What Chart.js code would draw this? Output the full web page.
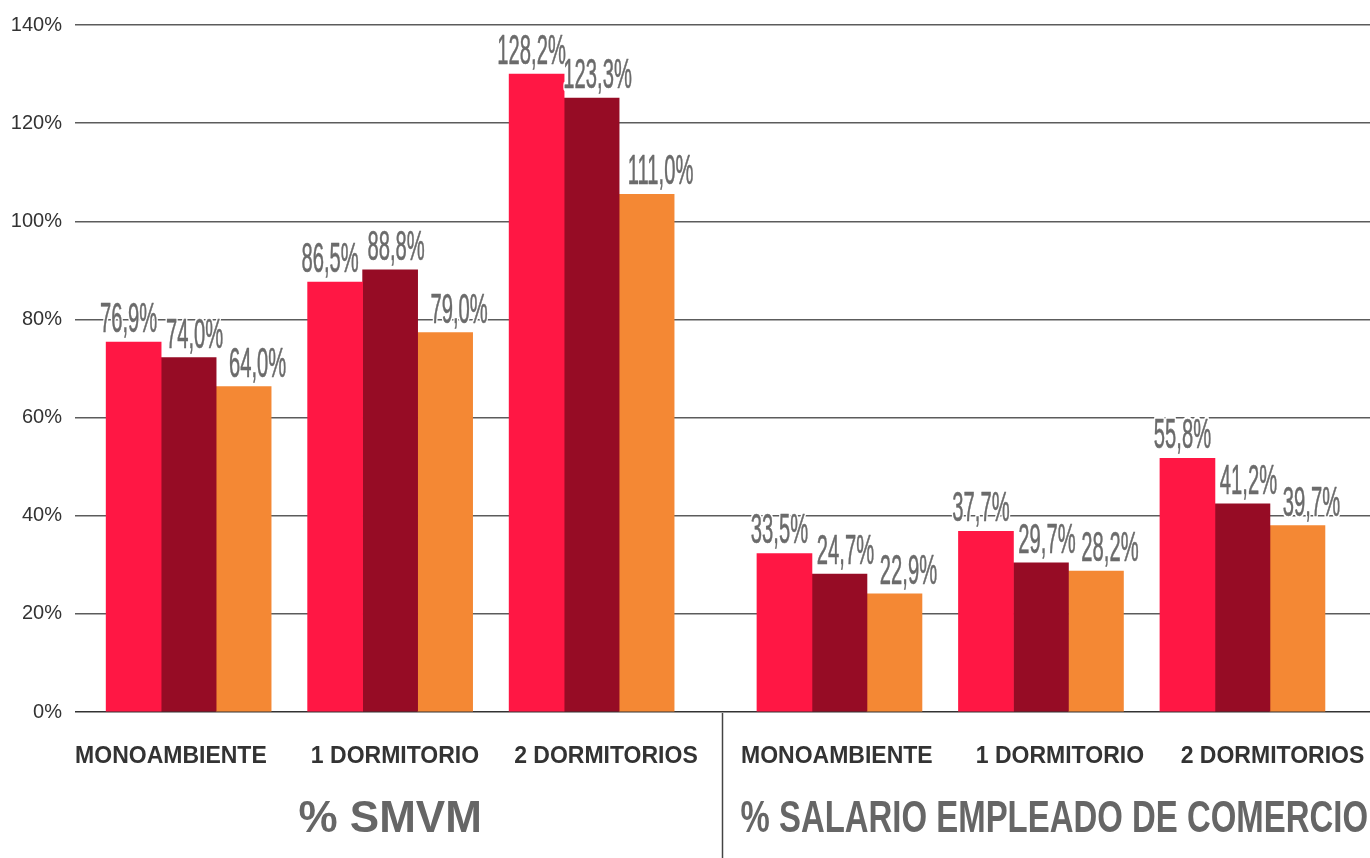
<!DOCTYPE html>
<html>
<head>
<meta charset="utf-8">
<script src="https://cdn.jsdelivr.net/npm/chart.js@4.4.1/dist/chart.umd.min.js"></script>
<style>
  html, body { margin: 0; padding: 0; background: #fff; }
  #wrap { width: 1370px; height: 858px; position: relative; }
</style>
</head>
<body>
<div id="wrap"><canvas id="barChart"></canvas></div>
<script>
// Data
const categories = ['MONOAMBIENTE', '1 DORMITORIO', '2 DORMITORIOS', 'MONOAMBIENTE', '1 DORMITORIO', '2 DORMITORIOS'];
const groupTitles = ['% SMVM', '% SALARIO EMPLEADO DE COMERCIO'];
const groupSize = 3;

// bar heights as drawn (%)
const seriesA = [75.4, 87.6, 130.0, 32.3, 36.8, 51.7];
const seriesB = [72.2, 90.1, 125.1, 28.1, 30.4, 42.4];
const seriesC = [66.3, 77.3, 105.5, 24.1, 28.7, 38.0];

// value labels printed above the bars
const labelsA = ['76,9%', '86,5%', '128,2%', '33,5%', '37,7%', '55,8%'];
const labelsB = ['74,0%', '88,8%', '123,3%', '24,7%', '29,7%', '41,2%'];
const labelsC = ['64,0%', '79,0%', '111,0%', '22,9%', '28,2%', '39,7%'];

const yTicks = [0, 20, 40, 60, 80, 100, 120, 140];

// Layout (x axis is linear so the two groups can sit apart)
const groupGap = 0.23;
const slotPos = categories.map((c, i) => i + (i >= groupSize ? groupGap : 0));
const tickShift = [-0.088, 0.024, 0.071, -0.013, 0.094, 0.149];
const tickPos = slotPos.map((p, i) => p + tickShift[i]);
const sepValue = 2.645;

const colors = ['#ff1744', '#960c25', '#f48834'];
const labelShift = [-5, 6, 14];

const toPoints = (vals) => vals.map((v, i) => ({ x: slotPos[i], y: v }));

// value labels: tall condensed grey text with a white halo
const valueLabels = {
    id: 'valueLabels',
    afterDatasetsDraw(chart) {
        const ctx = chart.ctx;
        const texts = [labelsA, labelsB, labelsC];
        chart.data.datasets.forEach((ds, d) => {
            const meta = chart.getDatasetMeta(d);
            meta.data.forEach((bar, i) => {
                ctx.save();
                ctx.translate(bar.x + labelShift[d], bar.y - 10);
                ctx.scale(0.47, 1);
                ctx.font = '43px "Liberation Sans", Arial, sans-serif';
                ctx.textAlign = 'center';
                ctx.textBaseline = 'alphabetic';
                ctx.lineJoin = 'round';
                ctx.strokeStyle = '#ffffff';
                ctx.lineWidth = 6;
                ctx.strokeText(texts[d][i], 0, 0);
                ctx.fillStyle = '#6b6b6b';
                ctx.fillText(texts[d][i], 0, 0);
                ctx.strokeStyle = '#6b6b6b';
                ctx.lineWidth = 0.6;
                ctx.strokeText(texts[d][i], 0, 0);
                ctx.restore();
            });
        });
    }
};

// separator between the two groups and the group titles
const groupTitlesPlugin = {
    id: 'groupTitles',
    afterDraw(chart) {
        const ctx = chart.ctx;
        const x = chart.scales.x;
        const area = chart.chartArea;
        const sepX = Math.round(x.getPixelForValue(sepValue)) + 0.5;

        ctx.save();
        ctx.strokeStyle = '#444';
        ctx.lineWidth = 1.5;
        ctx.beginPath();
        ctx.moveTo(sepX, area.bottom + 1);
        ctx.lineTo(sepX, chart.height);
        ctx.stroke();

        ctx.font = 'bold 44px "Liberation Sans", Arial, sans-serif';
        ctx.fillStyle = '#666';
        ctx.textBaseline = 'alphabetic';
        ctx.textAlign = 'center';
        const regions = [[2, sepX - 18], [sepX + 18, chart.width - 2]];
        groupTitles.forEach((title, g) => {
            const first = slotPos[g * groupSize];
            const last = slotPos[g * groupSize + groupSize - 1];
            let cx = (x.getPixelForValue(first) + x.getPixelForValue(last)) / 2;
            const [lo, hi] = regions[g];
            const w = ctx.measureText(title).width;
            const sx = Math.min(1, (hi - lo) / w);
            const half = w * sx / 2;
            if (cx + half > hi) cx = hi - half;
            if (cx - half < lo) cx = lo + half;
            ctx.save();
            ctx.translate(cx, 832);
            ctx.scale(sx, 1);
            ctx.fillText(title, 0, 0);
            ctx.restore();
        });
        ctx.restore();
    }
};

const createChart = () => {
    const ctx = document.getElementById('barChart').getContext('2d');
    new Chart(ctx, {
        type: 'bar',
        data: {
            datasets: [
                { label: 'A', data: toPoints(seriesA), backgroundColor: colors[0] },
                { label: 'B', data: toPoints(seriesB), backgroundColor: colors[1] },
                { label: 'C', data: toPoints(seriesC), backgroundColor: colors[2] }
            ]
        },
        plugins: [valueLabels, groupTitlesPlugin],
        options: {
            responsive: true,
            maintainAspectRatio: false,
            animation: false,
            barThickness: 55,
            layout: { padding: { top: 24, left: 0, right: 0, bottom: 0 } },
            plugins: {
                legend: { display: false },
                tooltip: { enabled: false }
            },
            scales: {
                x: {
                    type: 'linear',
                    offset: false,
                    min: -0.564,
                    max: 5.863,
                    grid: { display: false, drawTicks: false },
                    border: { display: false },
                    afterBuildTicks: (scale) => {
                        scale.ticks = tickPos.map(v => ({ value: v }));
                    },
                    afterFit: (scale) => {
                        scale.height = 146;
                        scale.paddingLeft = 0;
                        scale.paddingRight = 0;
                    },
                    ticks: {
                        autoSkip: false,
                        maxRotation: 0,
                        padding: 31,
                        color: '#333',
                        font: { family: '"Liberation Sans", Arial, sans-serif', size: 23, weight: 'bold' },
                        callback: (value, index) => categories[index]
                    }
                },
                y: {
                    min: 0,
                    max: 140,
                    afterBuildTicks: (scale) => {
                        scale.ticks = yTicks.map(v => ({ value: v }));
                    },
                    afterFit: (scale) => {
                        scale.width = 75;
                    },
                    grid: {
                        drawTicks: false,
                        lineWidth: 1.5,
                        color: (c) => c.tick && c.tick.value === 0 ? '#333' : '#5c5c5c'
                    },
                    border: { display: false },
                    ticks: {
                        padding: 13,
                        color: '#333',
                        font: { family: '"Liberation Sans", Arial, sans-serif', size: 20 },
                        callback: (value) => value + '%'
                    }
                }
            }
        }
    });
};

document.addEventListener('DOMContentLoaded', function() {
    createChart();
});
</script>
</body>
</html>
